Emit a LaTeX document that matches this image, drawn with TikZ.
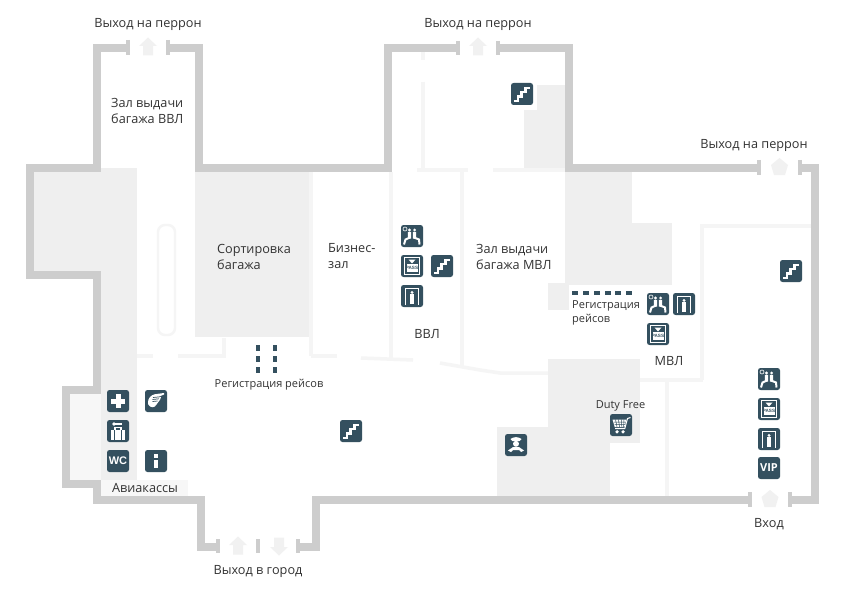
\documentclass[tikz,border=0pt]{standalone}
\usepackage{fontspec}
\setmainfont{Open Sans}
\newfontfamily\iconfont{Liberation Sans}
\begin{document}
\begin{tikzpicture}[x=1pt,y=-1pt,
  wall/.style={draw=wallgray,line width=8pt,miter limit=10},
  capmark/.style={draw=wallgray,line width=4pt},
  thin wall/.style={draw=linegray,line width=3.5pt},
  zone/.style={fill=zonegray,draw=none},
  softzone/.style={fill=softgray,draw=none},
  label/.style={inner sep=0pt,text=textgray,font=\fontsize{12.7}{16}\selectfont,align=left},
  smalllabel/.style={inner sep=0pt,text=textgray,font=\fontsize{11}{14}\selectfont,align=left},
  iconbox/.style={fill=iconblue,draw=none,rounded corners=2.5pt,minimum width=22pt,minimum height=22pt,inner sep=0pt},
  glyph/.style={draw=white,line width=1.6pt,line join=miter},
  stairsglyph/.pic={\draw[glyph,line width=2.2pt] (-8,7)--(-4,7)--(-4,2.5)--(-.5,2.5)--(-.5,-2)--(3.5,-2)--(3.5,-6)--(8,-6);},
  plusglyph/.pic={\fill[white] (-7,-2.5) rectangle (7,2.5); \fill[white] (-2.5,-7) rectangle (2.5,7);},
  infoglyph/.pic={\fill[white] (-2,-7) rectangle (2,-3.5); \fill[white] (-2,-1.5) rectangle (2,7);},
  gateglyph/.pic={\draw[glyph,line width=1.8pt] (-6.5,9)--(-6.5,-7.5)--(6.5,-7.5)--(6.5,9); \fill[white] (0,-3.6) circle (1.6); \fill[white] (-2,-1.6) rectangle (2,8);},
  passglyph/.pic={\draw[glyph,line width=1.2pt] (-7.5,-8.5) rectangle (7.5,8.5); \fill[white] (-3.5,-6.5)--(3.5,-6.5)--(0,-2.5)--cycle; \fill[white] (-5.5,-2) rectangle (5.5,6); \node[inner sep=0pt,text=iconblue,font=\iconfont\bfseries\fontsize{4.6}{4}\selectfont] at (0,2) {PASS};},
  peopleglyph/.pic={
    \draw[white,line width=.6pt] (-7,-7) circle (2);
    \fill[white] (-2.6,-6) circle (1.6) (2.6,-6) circle (1.6);
    \fill[white] (-4.2,-4.2) rectangle (-.8,2.5) (.8,-4.2) rectangle (4.2,2.5);
    \draw[glyph,line width=2pt] (-2,1.5)--(-6.5,3.5)--(-8,8.5) (2,1.5)--(7,3.5)--(7.5,8.5);},
  luggageglyph/.pic={\fill[white] (-7,-1) rectangle (7,8.5); \draw[iconblue,line width=.8pt] (-3.5,-1)--(-3.5,8.5) (3.5,-1)--(3.5,8.5); \draw[white,line width=1.2pt] (-3,-1)--(-3,-3.5)--(3,-3.5)--(3,-1); \fill[white] (-4,-7) circle (1.8); \draw[white,line width=1.1pt] (-4,-7)--(3.5,-7);},
  handglyph/.pic={\fill[white] (-8,3) .. controls (-8.5,-3) and (-5,-6) .. (-1,-6.8) -- (8,-8) -- (8,-6.5) -- (2,-4) .. controls (5,-4.5) and (6,-3.5) .. (4.5,-2.5) .. controls (4.5,-1) and (1.5,1.5) .. (0.5,3.5) .. controls (-1,7) and (-6,7.5) .. cycle; \draw[iconblue,line width=.7pt] (-3,-3.5)--(4,-4.2) (-3.5,-1.5)--(3,-2.2) (-3.5,.5)--(1.5,0);},
  copglyph/.pic={\fill[white] (-5.5,-6) .. controls (-2,-8.5) and (2,-8.5) .. (5.5,-6) -- (3.5,-3.8) -- (-3.5,-3.8) -- cycle; \fill[white] (0,-1.2) circle (3); \fill[white] (-8,5.5) -- (-3.2,2.2) -- (3.2,2.2) -- (8,5.5) -- (5,7) -- (3,5) -- (-3,5) -- (-5,7) -- cycle;},
  cartglyph/.pic={\draw[glyph,line width=1pt] (9.5,-7.5)--(6.5,-6.5)--(3.8,3.5)--(-6,3.5); \fill[white] (-8.5,-5.5)--(5.5,-5.5)--(3.4,2)--(-6.3,2)--cycle; \draw[iconblue,line width=.5pt] (-5.5,-5.5)--(-4,2) (-2.5,-5.5)--(-1.5,2) (.5,-5.5)--(.8,2) (3,-5.5)--(2.6,2) (-7.5,-3)--(4.8,-3) (-6.5,-.5)--(4,-.5); \fill[white] (-4,6.8) circle (1.8) (2,6.8) circle (1.8);},
  exitarrow/.pic={\fill[arrowgray] (0,-9.5)--(9,-1)--(5,-1)--(5,8.5)--(-5,8.5)--(-5,-1)--(-9,-1)--cycle;},
  roundarrow/.pic={\fill[arrowgray] (0,-9)--(8.5,-2)--(5.5,8)--(-5.5,8)--(-8.5,-2)--cycle;},
]
\definecolor{wallgray}{HTML}{CDCDCD}
\definecolor{linegray}{HTML}{F5F5F5}
\definecolor{zonegray}{HTML}{EFEFEF}
\definecolor{softgray}{HTML}{F7F7F7}
\definecolor{arrowgray}{HTML}{F1F1F1}
\definecolor{iconblue}{HTML}{34505F}
\definecolor{textgray}{HTML}{333333}
\useasboundingbox (0,0) rectangle (854,599);
\fill[white] (0,0) rectangle (854,599);

% grey zones
\path[zone] (34,168) rectangle (137,271);
\path[zone] (101,271) rectangle (137,496);
\path[softzone] (70,394) rectangle (101,480);
\path[softzone] (101,480) rectangle (188,496);
\path[zone] (195,172) rectangle (313,337);
\path[zone] (537,85) rectangle (565,168);
\path[zone] (524,110) rectangle (565,168);
\path[zone] (565,172) rectangle (632,224);
\path[zone] (565,223) rectangle (672,285);
\path[zone] (548,283) rectangle (569,310);
\path[zone] (548,359) rectangle (640,443);
\path[zone] (497,427) rectangle (610,496);

% inner light partitions
\draw[thin wall,line width=2.4pt,rounded corners=7pt] (158,225) rectangle (175,335);
\draw[thin wall] (137,356)--(153,356);
\draw[thin wall] (178,356)--(224,356)--(224,338);
\draw[thin wall] (311,172)--(311,356);
\draw[thin wall] (311,356)--(337,356);
\draw[thin wall] (361,358)--(413,360);
\draw[thin wall] (391,172)--(391,358);
\draw[thin wall] (440,363)--(480,370)--(500,373)--(548,373);
\draw[thin wall] (462,172)--(462,366);
\draw[thin wall] (417,170)--(468,170);
\draw[thin wall] (493,170)--(565,170);
\draw[thin wall] (423,52)--(423,60);
\draw[thin wall] (423,82)--(423,168);
\draw[thin wall] (667,380)--(667,496);
\draw[thin wall] (640,380)--(703,380);
\draw[thin wall] (702,380)--(702,226)--(811,226);

% outer walls
\draw[wall] (128,48)--(97,48)--(97,168)--(30,168)--(30,275)--(97,275)--(97,390)--(66,390)--(66,484)--(97,484)--(97,500)--(201,500)--(201,547)--(218,547);
\draw[wall] (298,547)--(316,547)--(316,500)--(750,500);
\draw[wall] (790,500)--(815,500)--(815,168)--(800,168);
\draw[wall] (759,168)--(569,168)--(569,48)--(498,48);
\draw[wall] (458,48)--(388,48)--(388,168)--(199,168)--(199,48)--(168,48);
\draw[capmark] (128,40)--(128,55) (168,40)--(168,55);
\draw[capmark] (458,41)--(458,55) (498,41)--(498,55);
\draw[capmark] (759,160)--(759,175) (800,160)--(800,175);
\draw[capmark] (218,539)--(218,553) (258,539)--(258,553) (298,539)--(298,553);
\draw[capmark] (750,492)--(750,507) (790,492)--(790,507);

% exit arrows
\pic at (148,47) {exitarrow};
\pic at (478,47) {exitarrow};
\pic at (779.5,167) {roundarrow};
\pic at (238,546) {exitarrow};
\pic[rotate=180] at (279,546) {exitarrow};
\pic at (770,499) {roundarrow};

% check-in dashes
\foreach \y in {345,356,367} {\fill[iconblue] (256,\y) rectangle (260,\y+6); \fill[iconblue] (273,\y) rectangle (277,\y+6);}
\foreach \x in {572,583,594,605,615,626} {\fill[iconblue] (\x,291) rectangle (\x+6,295);}

% icons
\node[iconbox] (stA) at (522,94) {}; \pic at (stA) {stairsglyph};
\node[iconbox] (stB) at (442,266) {}; \pic at (stB) {stairsglyph};
\node[iconbox] (stC) at (791,271) {}; \pic at (stC) {stairsglyph};
\node[iconbox] (stD) at (351,431) {}; \pic at (stD) {stairsglyph};
\node[iconbox] (med) at (118,401) {}; \pic at (med) {plusglyph};
\node[iconbox] (hand) at (156,401) {}; \pic at (hand) {handglyph};
\node[iconbox] (lug) at (118,431) {}; \pic at (lug) {luggageglyph};
\node[iconbox,text=white,font=\iconfont\bfseries\fontsize{11}{11}\selectfont] (wc) at (118,461) {WC};
\node[iconbox] (info) at (156,461) {}; \pic at (info) {infoglyph};
\node[iconbox] (pplA) at (412,236) {}; \pic at (pplA) {peopleglyph};
\node[iconbox] (passA) at (412,266) {}; \pic at (passA) {passglyph};
\node[iconbox] (gateA) at (412,296) {}; \pic at (gateA) {gateglyph};
\node[iconbox] (pplB) at (658,304) {}; \pic at (pplB) {peopleglyph};
\node[iconbox] (gateB) at (684,304) {}; \pic at (gateB) {gateglyph};
\node[iconbox] (passB) at (658,334) {}; \pic at (passB) {passglyph};
\node[iconbox] (pplC) at (769,379) {}; \pic at (pplC) {peopleglyph};
\node[iconbox] (passC) at (769,409) {}; \pic at (passC) {passglyph};
\node[iconbox] (gateC) at (769,439) {}; \pic at (gateC) {gateglyph};
\node[iconbox,text=white,font=\bfseries\fontsize{11}{11}\selectfont] (vip) at (769,468) {VIP};
\node[iconbox] (cop) at (516,445) {}; \pic at (cop) {copglyph};
\node[iconbox] (cart) at (621,425) {}; \pic at (cart) {cartglyph};

% labels
\node[label] (exA) at (148,24.5) {Выход на перрон};
\node[label] (exB) at (478,24.5) {Выход на перрон};
\node[label] (exC) at (754,145.5) {Выход на перрон};
\node[label,anchor=west] (hallA) at (111,111) {Зал выдачи\\багажа ВВЛ};
\node[label,anchor=west] (sort) at (217,256.5) {Сортировка\\багажа};
\node[label,anchor=west] (biz) at (328,256.5) {Бизнес-\\зал};
\node[label,anchor=west] (hallB) at (476,257) {Зал выдачи\\багажа МВЛ};
\node[label] (vvl) at (427,334) {ВВЛ};
\node[label] (mvl) at (669,361) {МВЛ};
\node[smalllabel,anchor=west] (regB) at (572,312.5) {Регистрация\\рейсов};
\node[smalllabel] (regA) at (269,384.5) {Регистрация рейсов};
\node[smalllabel] (duty) at (620.5,405.5) {Duty Free};
\node[label] (cash) at (145,488.5) {Авиакассы};
\node[label] (city) at (258,571.5) {Выход в город};
\node[label] (entry) at (769,524.5) {Вход};
\end{tikzpicture}
\end{document}
